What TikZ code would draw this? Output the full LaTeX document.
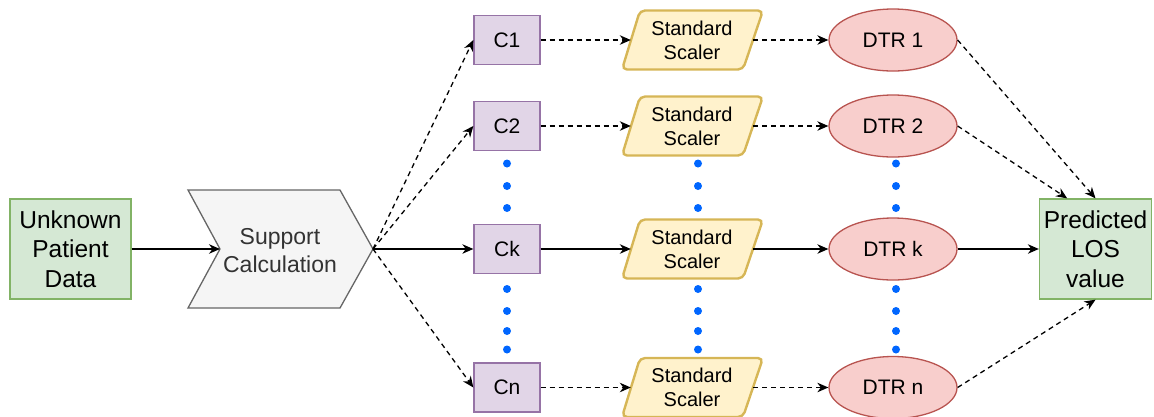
\documentclass[tikz,border=0pt]{standalone}
\usepackage{fontspec}
\setmainfont{Liberation Sans}
\usetikzlibrary{arrows.meta,shapes.geometric,calc}

\definecolor{gfill}{HTML}{D5E8D4}\definecolor{gline}{HTML}{82B366}
\definecolor{sfill}{HTML}{F5F5F5}\definecolor{sline}{HTML}{666666}\definecolor{stext}{HTML}{333333}
\definecolor{pfill}{HTML}{E1D5E7}\definecolor{pline}{HTML}{9673A6}
\definecolor{yfill}{HTML}{FFF2CC}\definecolor{yline}{HTML}{D6B656}
\definecolor{rfill}{HTML}{F8CECC}\definecolor{rline}{HTML}{B85450}
\definecolor{dotblue}{HTML}{0066FF}

\tikzset{
  box/.style={draw, line width=1.3pt, inner sep=0pt, align=center},
  inbox/.style={box, fill=gfill, draw=gline, minimum width=121pt, minimum height=100pt,
    font=\fontsize{24.5}{29.5}\selectfont},
  cbox/.style={box, fill=pfill, draw=pline, minimum width=66pt, minimum height=49pt,
    font=\fontsize{21}{25}\selectfont},
  dtr/.style={ellipse, box, fill=rfill, draw=rline, minimum width=128pt, minimum height=62pt,
    font=\fontsize{21}{25}\selectfont},
  steppath/.style={fill=sfill, draw=sline, line width=1.3pt},
  steplabel/.style={inner sep=0pt, align=center, text=stext, font=\fontsize{23}{28}\selectfont},
  scpath/.style={fill=yfill, draw=yline, line width=2.4pt, rounded corners=5pt},
  sclabel/.style={inner sep=0pt, minimum width=122pt, minimum height=59pt, align=center,
    font=\fontsize{20}{24}\selectfont},
  flow/.style={-{Stealth[length=11pt,width=9.5pt,inset=3.5pt]}, line width=1.3pt},
  dflow/.style={flow, dash pattern=on 5pt off 4pt},
  ellip/.style={fill=dotblue, draw=none}
}

\begin{document}
\begin{tikzpicture}[x=1pt, y=-1pt]
\useasboundingbox (0,0) rectangle (1154,416);

% input data
\node[inbox] (unk) at (70.5,249) {Unknown\\Patient\\Data};

% support calculation step
\draw[steppath] (188,190) -- (340,190) -- (373,249) -- (340,308) -- (188,308) -- (220,249) -- cycle;
\node[steplabel] (sup) at (280,251) {Support\\Calculation};
\coordinate (supin) at (220,249);
\coordinate (supout) at (373,249);

% clusters
\node[cbox] (c1) at (507,40) {C1};
\node[cbox] (c2) at (507,126) {C2};
\node[cbox] (ck) at (507,249) {Ck};
\node[cbox] (cn) at (507,387.5) {Cn};

% scalers
\foreach \n/\y in {1/40,2/126,k/249,n/387.5} {
  \draw[scpath, shift={(692,\y)}] (-52,-29.5) -- (71,-29.5) -- (51,29.5) -- (-70,29.5) -- cycle;
  \node[sclabel] (s\n) at (692,\y) {Standard\\Scaler};
}

% regressors
\node[dtr] (d1) at (893,40) {DTR 1};
\node[dtr] (d2) at (893,126) {DTR 2};
\node[dtr] (dk) at (893,249) {DTR k};
\node[dtr] (dn) at (893,387.5) {DTR n};

% output
\node[inbox, minimum width=112pt] (pred) at (1095.5,249) {Predicted\\LOS\\value};

% ellipsis dots
\foreach \x in {507,698,896} {
  \foreach \y in {163.5,186,208,289,311,331,349.5}
    \fill[ellip] (\x,\y) circle (4pt);
}

% connectors
\draw[flow] (unk.east) -- (supin);
\draw[dflow] (supout) -- (c1.west);
\draw[dflow] (supout) -- (c2.west);
\draw[flow] (supout) -- (ck.west);
\draw[dflow] (supout) -- (cn.west);

\draw[dflow] (c1.east) -- (s1.west);
\draw[dflow] (c2.east) -- (s2.west);
\draw[flow] (ck.east) -- (sk.west);
\draw[dflow] (cn.east) -- (sn.west);

\draw[dflow] (s1.east) -- (d1.west);
\draw[dflow] (s2.east) -- (d2.west);
\draw[flow] (sk.east) -- (dk.west);
\draw[dflow] (sn.east) -- (dn.west);

\draw[dflow] (d1.east) -- (pred.north);
\draw[dflow] (d2.east) -- ($(pred.north west)!0.25!(pred.north east)$);
\draw[flow] (dk.east) -- (pred.west);
\draw[dflow] (dn.east) -- (pred.south);
\end{tikzpicture}
\end{document}
